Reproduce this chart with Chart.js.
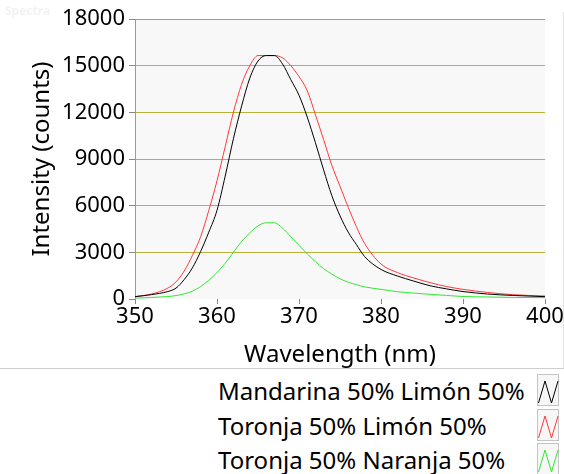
<!DOCTYPE html>
<html>
<head>
<meta charset="utf-8">
<script src="https://cdn.jsdelivr.net/npm/chart.js@4"></script>
<style>
  body { margin: 0; background: #fff; font-family: "Noto Sans", sans-serif; }
  #wrap { position: relative; width: 564px; height: 474px; overflow: hidden; }
  #spectra { position: absolute; left: 5px; top: 2px; font-size: 12px; font-weight: bold; color: #f3f3f3; }
  #edge { position: absolute; left: 563px; top: 12px; width: 1px; height: 356px; background: #e4e4e4; }
  #legend { position: absolute; left: 0; top: 368px; width: 564px; border-top: 1px solid #cfcfcf; padding-top: 4px; }
  .row { position: relative; height: 34.5px; }
  .row span { position: absolute; left: 218px; top: 50%; transform: translateY(-50%); font-size: 24px; color: #000; white-space: nowrap; }
  .row svg { position: absolute; left: 537px; top: 1px; }
</style>
</head>
<body>
<div id="wrap">
  <canvas id="spectraChart" width="564" height="368"></canvas>
  <div id="spectra">Spectra</div>
  <div id="edge"></div>
  <div id="legend"></div>
</div>
<script>
// Wavelength grid (nm), shared by all three spectra
const wavelengths = [350, 352, 354, 355, 356, 357, 358, 359, 360, 361, 362, 363, 364, 365, 366, 367, 368, 369, 370,
  371, 372, 373, 374, 375, 376, 377, 378, 380, 382, 384, 386, 388, 390, 393, 396, 400];

// Intensity (counts)
const mandarinaLimon = [150, 280, 480, 700, 1250, 2000, 3050, 4300, 5700, 7900, 10300, 12400, 14200, 15300, 15650, 15650,
  15100, 14100, 13100, 11700, 10050, 8300, 6650, 5350, 4300, 3500, 2730, 1900, 1480, 1150, 850, 650, 480, 320, 230, 150];
const toronjaLimon = [150, 320, 700, 1100, 1800, 2800, 4000, 5700, 7600, 9800, 12000, 13800, 15000, 15650, 15650, 15650,
  15500, 15000, 14300, 13400, 11850, 10250, 8600, 7250, 5900, 4650, 3570, 2250, 1700, 1350, 1050, 800, 620, 420, 280, 190];
const toronjaNaranja = [50, 100, 160, 220, 330, 500, 800, 1200, 1700, 2300, 3000, 3700, 4250, 4700, 4900, 4900,
  4550, 4000, 3450, 2900, 2400, 1950, 1600, 1300, 1080, 920, 780, 620, 470, 380, 300, 230, 160, 130, 100, 90];

const seriesLabels = ["Mandarina 50% Limón 50%", "Toronja 50% Limón 50%", "Toronja 50% Naranja 50%"];
const seriesColors = ["#000000", "#ff3a3a", "#33e833"];
const seriesValues = [mandarinaLimon, toronjaLimon, toronjaNaranja];

const xTicks = [350, 360, 370, 380, 390, 400];
const yTicks = [0, 3000, 6000, 9000, 12000, 15000, 18000];

document.addEventListener("DOMContentLoaded", function () {
  setupSpectraChart();
  buildLegend();
});

function setupSpectraChart() {
  const ctx = document.getElementById("spectraChart").getContext("2d");

  const datasets = seriesValues.map(function (values, i) {
    return {
      label: seriesLabels[i],
      data: values.map(function (v, j) { return { x: wavelengths[j], y: v }; }),
      borderColor: seriesColors[i],
      borderWidth: 1,
      pointRadius: 0,
      cubicInterpolationMode: "monotone",
      fill: false,
    };
  });

  // plot background + top frame line
  const plotFrame = {
    id: "plotFrame",
    beforeDraw: function (chart) {
      const a = chart.chartArea;
      const c = chart.ctx;
      c.save();
      c.fillStyle = "#f8f8f8";
      c.fillRect(a.left, a.top, a.right - a.left, a.bottom - a.top);
      c.restore();
    },
    afterDraw: function (chart) {
      const a = chart.chartArea;
      const c = chart.ctx;
      c.save();
      c.strokeStyle = "#9a9a9a";
      c.lineWidth = 1;
      c.beginPath();
      c.moveTo(a.left, a.top + 0.5);
      c.lineTo(a.right, a.top + 0.5);
      c.stroke();
      c.restore();
    },
  };

  const tickFont = { family: "Noto Sans", size: 22 };
  const titleFont = { family: "Noto Sans", size: 24 };

  new Chart(ctx, {
    type: "line",
    data: { datasets: datasets },
    options: {
      responsive: false,
      devicePixelRatio: 1,
      animation: false,
      layout: { padding: { top: 19, right: 19, bottom: 0, left: 0 } },
      plugins: { legend: { display: false }, tooltip: { enabled: false } },
      scales: {
        x: {
          type: "linear",
          min: xTicks[0],
          max: xTicks[xTicks.length - 1],
          afterBuildTicks: function (scale) {
            scale.ticks = xTicks.map(function (v) { return { value: v }; });
          },
          afterFit: function (scale) { scale.height = 69; },
          border: { display: false },
          grid: { display: true, drawOnChartArea: false, drawTicks: true, tickLength: 5, tickColor: "#888" },
          ticks: { color: "#000", font: tickFont, padding: 0, maxRotation: 0, callback: function (v) { return String(v); } },
          title: { display: true, text: "Wavelength (nm)", color: "#000", font: titleFont, padding: { top: 0, bottom: -2 } },
        },
        y: {
          min: yTicks[0],
          max: yTicks[yTicks.length - 1],
          afterBuildTicks: function (scale) {
            scale.ticks = yTicks.map(function (v) { return { value: v }; });
          },
          afterFit: function (scale) { scale.width = 135; },
          border: { display: true, color: "#9a9a9a" },
          grid: {
            color: function (c) {
              const v = c.tick ? c.tick.value : 0;
              return v === 0 || v === 18000 ? "rgba(0,0,0,0)" : "#b8b23a";
            },
            tickColor: "#888",
            tickLength: 6,
          },
          ticks: { color: "#000", font: tickFont, padding: 4, callback: function (v) { return String(v); } },
          title: { display: true, text: "Intensity (counts)", color: "#000", font: titleFont, padding: { top: 28, bottom: 0 } },
        },
      },
    },
    plugins: [plotFrame],
  });
}

function buildLegend() {
  const legend = document.getElementById("legend");
  seriesLabels.forEach(function (label, i) {
    const row = document.createElement("div");
    row.className = "row";
    row.innerHTML =
      "<span>" + label + "</span>" +
      '<svg width="22" height="32"><rect x="0.5" y="0.5" width="21" height="31" fill="#f7f7f7" stroke="#c4c4c4"/>' +
      '<polyline points="1.5,29 8,7 14.5,29 21,7" fill="none" stroke="' + seriesColors[i] + '" stroke-width="1"/></svg>';
    legend.appendChild(row);
  });
}
</script>
</body>
</html>
